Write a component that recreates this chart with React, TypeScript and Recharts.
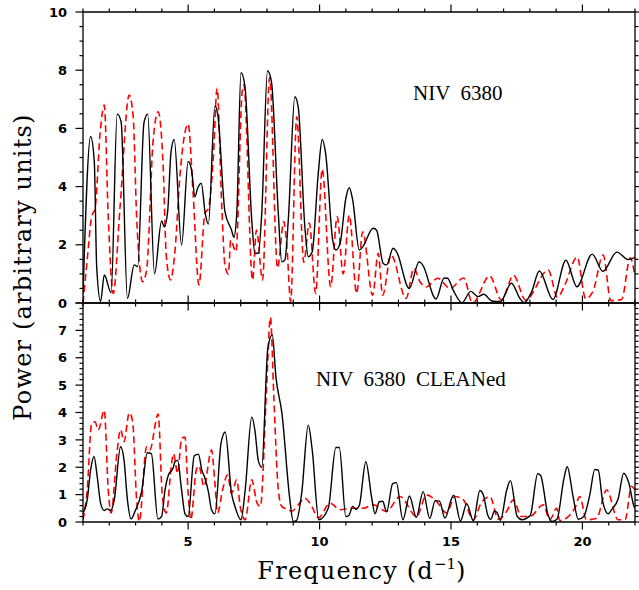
import React from 'react'
import { LineChart, Line, XAxis, YAxis } from 'recharts'

// frequency (d^-1) and power
const topSolidFreq = [1.0, 1.29, 1.43, 1.52, 1.67, 1.81, 2.07, 2.3, 2.45, 2.69, 2.95, 3.08, 3.32, 3.46, 3.72, 3.99, 4.09, 4.22, 4.35, 4.47, 4.75, 5.0, 5.13, 5.26, 5.36, 5.5, 5.65, 5.77, 6.02, 6.13, 6.4, 6.65, 6.74, 6.85, 7.01, 7.16, 7.42, 7.54, 7.67, 7.8, 8.02, 8.17, 8.43, 8.56, 8.68, 8.81, 9.06, 9.19, 9.44, 9.57, 9.72, 9.95, 10.1, 10.23, 10.5, 10.62, 10.78, 11.0, 11.13, 11.26, 11.51, 11.64, 12.04, 12.17, 12.42, 12.55, 12.8, 12.93, 13.41, 13.79, 13.92, 14.43, 14.74, 14.87, 15.08, 15.42, 15.75, 15.9, 16.03, 16.25, 16.55, 16.88, 17.3, 17.62, 17.78, 18.07, 18.36, 18.88, 19.37, 19.79, 20.37, 20.78, 21.31, 21.74, 22.0]
const topSolidPower = [0.3, 5.72, 4.86, 1.25, 0.05, 0.96, 0.35, 6.49, 6.23, 0.16, 1.31, 1.25, 6.2, 6.49, 1.0, 2.82, 2.62, 3.14, 5.2, 5.62, 1.99, 4.86, 4.57, 3.65, 3.94, 4.11, 3.08, 2.71, 6.77, 6.46, 3.14, 2.51, 2.26, 3.08, 7.91, 7.46, 2.85, 1.71, 1.71, 3.08, 7.98, 7.6, 3.08, 1.42, 1.48, 2.85, 7.09, 6.72, 2.62, 1.59, 1.76, 4.46, 5.62, 5.14, 2.16, 1.82, 2.05, 3.6, 3.96, 3.54, 1.82, 1.93, 2.57, 2.5, 1.36, 1.31, 1.88, 1.76, 0.5, 1.42, 1.31, 0.14, 0.86, 0.85, 0.45, 0.01, 0.4, 0.3, 0.22, 0.3, 0.07, 0.05, 0.68, 0.16, 0.01, 0.39, 1.1, 0.12, 1.47, 0.56, 1.68, 1.09, 1.75, 1.49, 1.57]

const topDashFreq = [1.0, 1.16, 1.33, 1.46, 1.65, 1.81, 1.96, 2.15, 2.41, 2.76, 2.91, 3.04, 3.27, 3.42, 3.67, 3.86, 4.05, 4.17, 4.33, 4.5, 4.69, 5.0, 5.19, 5.41, 5.64, 5.77, 5.96, 6.1, 6.28, 6.4, 6.53, 6.62, 6.82, 7.05, 7.12, 7.45, 7.6, 7.83, 8.1, 8.4, 8.64, 8.76, 8.9, 9.13, 9.4, 9.61, 9.85, 10.1, 10.42, 10.67, 10.9, 11.13, 11.41, 11.64, 12.02, 12.23, 12.4, 12.72, 13.29, 13.59, 13.82, 14.05, 14.5, 14.96, 15.48, 15.82, 16.47, 16.92, 17.38, 17.84, 18.7, 19.05, 19.33, 19.8, 20.12, 20.4, 20.79, 21.08, 21.49, 21.82, 22.0]
const topDashPower = [0.0, 1.48, 2.97, 3.25, 5.83, 6.8, 2.97, 0.33, 3.31, 7.15, 6.4, 2.97, 0.73, 1.13, 5.6, 6.57, 4.68, 1.6, 0.79, 1.8, 4.4, 6.15, 3.75, 0.62, 3.08, 3.25, 5.03, 7.38, 3.31, 1.3, 1.0, 2.16, 1.76, 7.2, 7.5, 0.79, 2.51, 0.79, 7.75, 1.2, 2.8, 1.9, 0.05, 6.4, 1.4, 2.75, 0.33, 4.6, 0.56, 2.97, 1.0, 3.02, 0.33, 2.45, 0.27, 1.71, 0.27, 1.65, 0.16, 1.19, 0.73, 0.55, 0.85, 0.5, 0.86, 0.0, 0.93, 0.1, 0.95, 0.1, 1.13, 0.2, 0.62, 1.58, 0.15, 0.4, 1.65, 0.08, 0.12, 1.55, 0.9]

const botSolidFreq = [1.0, 1.16, 1.29, 1.42, 1.54, 1.67, 1.8, 1.92, 2.05, 2.19, 2.43, 2.56, 2.69, 2.83, 2.98, 3.23, 3.45, 3.6, 3.85, 3.99, 4.12, 4.25, 4.42, 4.5, 4.6, 4.75, 4.88, 5.0, 5.23, 5.39, 5.52, 5.64, 5.77, 5.89, 6.02, 6.25, 6.41, 6.65, 6.78, 7.01, 7.17, 7.42, 7.54, 7.67, 7.8, 8.03, 8.2, 8.34, 8.57, 8.86, 9.0, 9.12, 9.32, 9.57, 9.72, 9.97, 10.33, 10.62, 10.75, 11.0, 11.12, 11.26, 11.38, 11.51, 11.76, 11.98, 12.11, 12.27, 12.4, 12.55, 12.78, 12.92, 13.17, 13.42, 13.68, 13.94, 14.19, 14.4, 14.56, 14.77, 15.02, 15.1, 15.36, 15.6, 15.85, 16.1, 16.23, 16.4, 16.52, 16.65, 16.75, 16.88, 17.12, 17.26, 17.52, 17.71, 17.9, 18.02, 18.3, 18.41, 18.68, 18.84, 19.03, 19.3, 19.42, 19.65, 19.84, 20.05, 20.28, 20.47, 20.6, 20.77, 20.98, 21.11, 21.36, 21.57, 21.76, 21.97, 22.0]
const botSolidPower = [0.33, 0.81, 1.9, 2.39, 1.66, 0.69, 0.42, 0.48, 0.42, 0.81, 2.75, 2.27, 0.81, 0.11, 0.39, 1.11, 2.53, 2.5, 0.11, 0.2, 1.17, 1.72, 1.95, 2.2, 2.25, 1.17, 0.3, 0.2, 2.41, 2.48, 1.9, 1.6, 1.11, 0.45, 0.3, 2.87, 3.29, 1.05, 0.57, 0.08, 1.17, 3.84, 3.35, 2.24, 2.0, 6.33, 6.84, 5.29, 3.96, 0.9, 0.02, 0.05, 1.05, 3.54, 2.63, 0.08, 0.5, 2.72, 2.72, 0.2, 0.25, 0.57, 0.46, 0.6, 2.2, 0.9, 0.3, 0.74, 0.76, 0.37, 1.4, 1.44, 0.08, 0.95, 0.17, 1.11, 0.13, 0.78, 0.76, 0.14, 0.85, 0.98, 0.04, 0.67, 0.04, 1.15, 0.99, 0.25, 0.1, 0.4, 0.35, 0.06, 1.17, 1.51, 0.2, 0.08, 0.15, 0.25, 1.76, 1.7, 0.3, 0.02, 0.1, 1.6, 2.02, 0.9, 0.1, 0.2, 0.99, 1.92, 1.9, 0.75, 0.3, 0.45, 0.85, 1.78, 1.44, 0.55, 0.5]

const botDashFreq = [1.0, 1.16, 1.33, 1.46, 1.58, 1.81, 1.96, 2.07, 2.29, 2.43, 2.56, 2.76, 2.89, 3.04, 3.14, 3.42, 3.54, 3.86, 4.02, 4.17, 4.37, 4.44, 4.6, 4.75, 4.88, 5.0, 5.1, 5.31, 5.41, 5.6, 5.89, 6.02, 6.12, 6.31, 6.5, 6.65, 6.85, 6.98, 7.17, 7.42, 7.62, 7.75, 7.98, 8.13, 8.26, 8.43, 8.56, 8.81, 8.94, 9.19, 9.44, 9.7, 9.95, 10.4, 10.78, 11.16, 11.66, 12.04, 12.55, 13.06, 13.69, 14.07, 14.45, 14.83, 15.15, 15.47, 15.85, 16.15, 16.48, 16.8, 17.12, 17.37, 17.68, 18.0, 18.51, 18.76, 19.02, 19.14, 19.71, 19.9, 20.15, 20.54, 20.92, 21.36, 21.62, 21.87, 22.0]
const botDashPower = [0.08, 1.17, 3.6, 3.66, 3.36, 4.08, 1.17, 0.33, 2.5, 3.38, 2.93, 3.99, 3.66, 0.81, 0.02, 2.75, 2.63, 3.94, 0.93, 0.33, 2.14, 2.5, 1.78, 3.05, 3.1, 1.05, 0.08, 1.9, 2.05, 1.3, 2.63, 1.41, 0.33, 1.17, 1.72, 1.05, 1.54, 0.57, 0.08, 1.54, 0.69, 0.57, 4.81, 7.48, 4.57, 1.17, 0.57, 0.45, 0.39, 0.63, 0.87, 0.57, 0.15, 0.69, 0.45, 0.5, 0.5, 0.63, 0.39, 0.93, 0.2, 0.99, 0.75, 0.33, 0.93, 0.81, 0.08, 0.7, 0.93, 0.1, 0.39, 0.81, 0.2, 0.2, 0.63, 0.08, 0.5, 0.05, 0.5, 0.93, 0.08, 0.14, 1.17, 0.08, 0.08, 1.3, 1.17]

const freqTicks = Array.from({ length: 22 }, (_, i) => i + 1)
const topPowerTicks = Array.from({ length: 21 }, (_, i) => i * 0.5)
const botPowerTicks = Array.from({ length: 41 }, (_, i) => +(i * 0.2).toFixed(1))

const zip = (f: number[], p: number[]) => f.map((x, i) => ({ f: x, p: p[i] }))

const W = 639
const H = 590

function Tick(props: any) {
  const { x, y, payload, side, majorEvery, showLabels, skipLabel } = props
  const v = payload.value
  const major = Math.abs(v / majorEvery - Math.round(v / majorEvery)) < 1e-6
  const len = major ? 7.5 : 3.5
  let x2 = x
  let y2 = y
  if (side === 'bottom') y2 = y + len
  else if (side === 'top') y2 = y - len
  else if (side === 'left') x2 = x - len
  else x2 = x + len
  const label = showLabels && major && v !== skipLabel
  const font = { fontFamily: 'DejaVu Sans', fontWeight: 'bold' as const, fontSize: 13, fill: '#000' }
  return (
    <g>
      <line x1={x} y1={y} x2={x2} y2={y2} stroke="#000" strokeWidth={1.2} />
      {label && side === 'bottom' && (
        <text x={x} y={y + 24} textAnchor="middle" {...font}>{v}</text>
      )}
      {label && side === 'left' && (
        <text x={x - 16} y={y} dy="0.36em" textAnchor="end" {...font}>{v}</text>
      )}
    </g>
  )
}

const axisLine = { stroke: '#000', strokeWidth: 1.3 }

// axes are 1px thick so they still render; margins leave the plot box where the figure has it
function Panel({ solid, dashed, yMax, yTicks, yMajor, skipLabel, top, bottom, freqLabels }: any) {
  return (
    <div style={{ position: 'absolute', left: 0, top: 0 }}>
      <LineChart width={W} height={H} margin={{ top: top - 1, right: 3, bottom: bottom - 1, left: 82 }}>
        <XAxis xAxisId="b" dataKey="f" type="number" domain={[1, 22]} allowDataOverflow orientation="bottom"
          ticks={freqTicks} interval={0} height={1} tickSize={0} tickMargin={0} tickLine={false} axisLine={axisLine}
          tick={<Tick side="bottom" majorEvery={5} showLabels={freqLabels} />} />
        <XAxis xAxisId="t" dataKey="f" type="number" domain={[1, 22]} allowDataOverflow orientation="top"
          ticks={freqTicks} interval={0} height={1} tickSize={0} tickMargin={0} tickLine={false} axisLine={axisLine}
          tick={<Tick side="top" majorEvery={5} />} />
        <YAxis yAxisId="l" type="number" domain={[0, yMax]} allowDataOverflow orientation="left"
          ticks={yTicks} interval={0} width={1} tickSize={0} tickMargin={0} tickLine={false} axisLine={axisLine}
          tick={<Tick side="left" majorEvery={yMajor} showLabels skipLabel={skipLabel} />} />
        <YAxis yAxisId="r" type="number" domain={[0, yMax]} allowDataOverflow orientation="right"
          ticks={yTicks} interval={0} width={1} tickSize={0} tickMargin={0} tickLine={false} axisLine={axisLine}
          tick={<Tick side="right" majorEvery={yMajor} />} />
        <Line xAxisId="b" yAxisId="l" data={dashed} dataKey="p" type="monotone" stroke="#ff0000" strokeWidth={1.6}
          strokeDasharray="7 4" dot={false} activeDot={false} isAnimationActive={false} />
        <Line xAxisId="b" yAxisId="l" data={solid} dataKey="p" type="monotone" stroke="#000" strokeWidth={1.4}
          dot={false} activeDot={false} isAnimationActive={false} />
      </LineChart>
    </div>
  )
}

export default function App() {
  const serif = { fontFamily: 'DejaVu Serif', fill: '#000' }
  const times = { fontFamily: 'Liberation Serif', fontSize: 21, fill: '#000' }
  return (
    <div style={{ position: 'absolute', left: 0, top: 0, width: W, height: H, background: '#fff' }}>
      <Panel solid={zip(topSolidFreq, topSolidPower)} dashed={zip(topDashFreq, topDashPower)}
        yMax={10} yTicks={topPowerTicks} yMajor={2} top={12} bottom={H - 303} freqLabels={false} />
      <Panel solid={zip(botSolidFreq, botSolidPower)} dashed={zip(botDashFreq, botDashPower)}
        yMax={8} yTicks={botPowerTicks} yMajor={1} skipLabel={8} top={303} bottom={H - 522} freqLabels />
      <svg width={W} height={H} style={{ position: 'absolute', left: 0, top: 0, pointerEvents: 'none' }}>
        <text x={413} y={100} style={{ whiteSpace: 'pre' }} {...times}>NIV  6380</text>
        <text x={316} y={386} style={{ whiteSpace: 'pre' }} {...times}>NIV  6380  CLEANed</text>
        <text transform="translate(31,267) rotate(-90)" textAnchor="middle" fontSize={24} letterSpacing={1.2} {...serif}>
          Power (arbitrary units)
        </text>
        <text x={362} y={579} textAnchor="middle" fontSize={24} letterSpacing={1.2} {...serif}>
          Frequency (d<tspan dy={-10} fontSize={15} letterSpacing={0}>−1</tspan><tspan dy={10}>)</tspan>
        </text>
      </svg>
    </div>
  )
}
